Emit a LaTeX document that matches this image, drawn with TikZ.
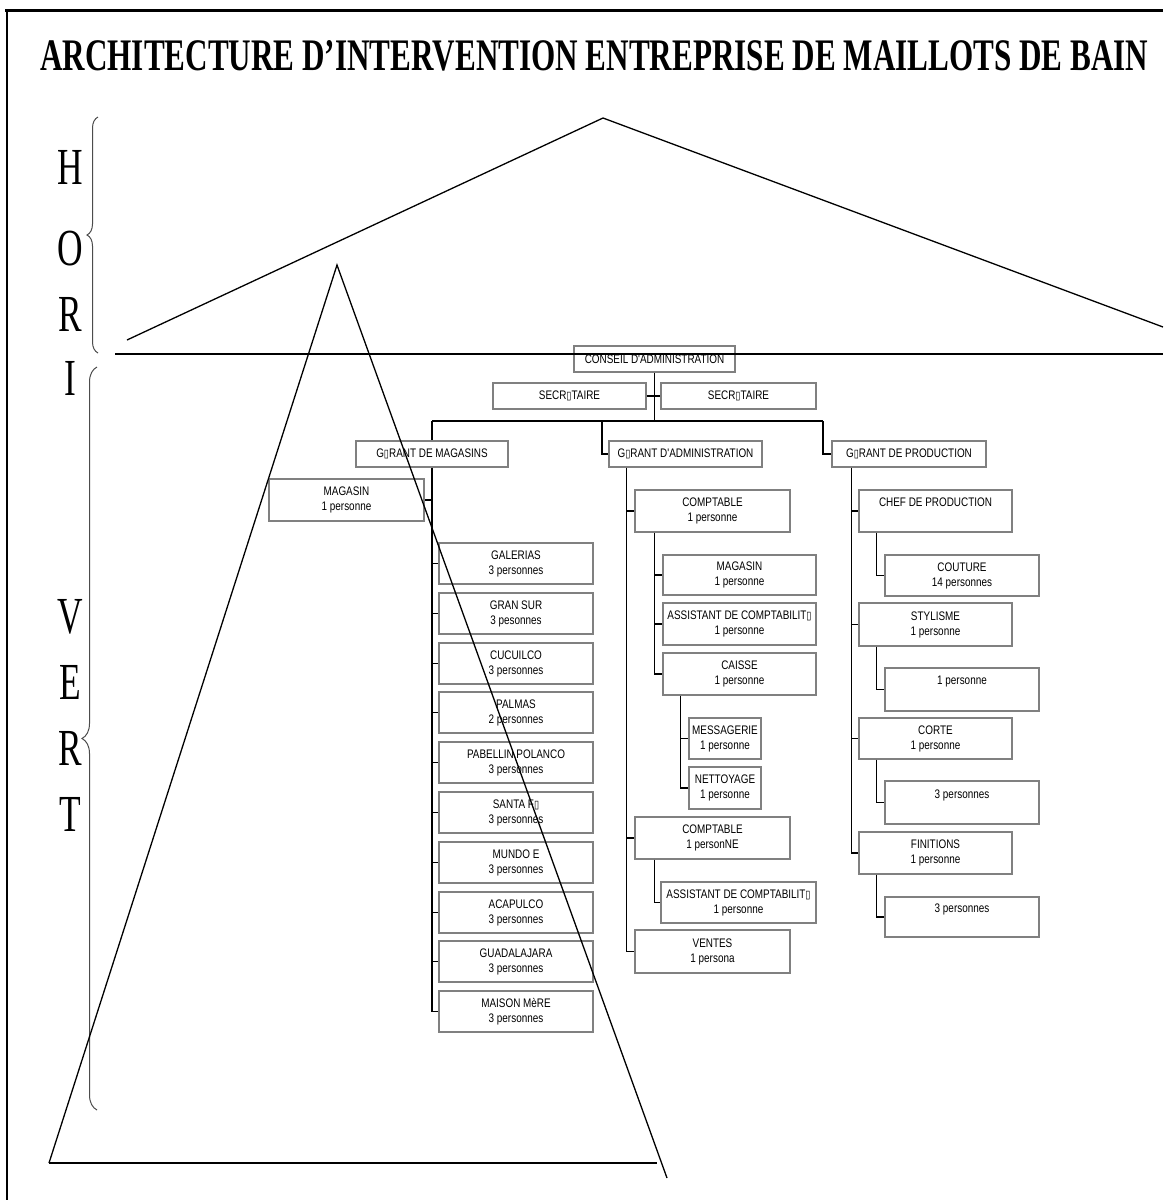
\documentclass[tikz,border=0pt]{standalone}
\usepackage{fontspec}
\usepackage{graphicx}
\usetikzlibrary{decorations.pathreplacing}

\newfontfamily\boxfont[FakeStretch=0.8]{Liberation Sans}
\newfontfamily\sideserif[FakeStretch=0.68]{Liberation Serif}
\newfontfamily\titleserif{Liberation Serif}
\newfontfamily\glyphfont{DejaVu Sans}
% placeholder glyph for the characters the chart could not print
\newcommand\nd{{\glyphfont\scalebox{0.75}[0.9]{▯}}}

% org-chart box: name, x1, y1, x2, y2, text
\newcommand\obox[6]{%
  \node[orgbox, minimum width={#4pt-#2pt}, minimum height={#5pt-#3pt}]
    (#1) at ({(#2+#4)/2},{(#3+#5)/2}) {#6};}

\tikzset{
  orgbox/.style={draw=black!50, line width=1.4pt, fill=white, inner sep=0pt,
    align=center, text=black, font=\boxfont\fontsize{12.4}{15}\selectfont},
  link/.style={line width=1.5pt, black},
  sketch/.style={line width=1.3pt, black},
  bracket/.style={decorate, decoration={brace, amplitude=#1, aspect=0.5},
    black!70, line width=1pt},
  letter/.style={anchor=base, inner sep=0pt,
    font=\sideserif\fontsize{52}{52}\selectfont}
}

\begin{document}
\begin{tikzpicture}[x=1pt,y=-1pt]
\useasboundingbox (0,0) rectangle (1163,1200);
\fill[white] (0,0) rectangle (1163,1200);

% page frame
\draw[line width=3pt] (5,10) -- (1163,10);
\draw[line width=1.5pt] (7,10) -- (7,1200);

% title
\node[anchor=base west, inner sep=0pt] (title) at (40,70)
  {\resizebox{1108pt}{30pt}{\titleserif\bfseries ARCHITECTURE D’INTERVENTION ENTREPRISE DE MAILLOTS DE BAIN}};

% side lettering
\node[letter] (lH) at (70,184) {H};
\node[letter] (lO) at (70,265) {O};
\node[letter] (lR) at (70,331) {R};
\node[letter] (lI) at (70,395) {I};
\node[letter] (lV) at (70,633) {V};
\node[letter] (lE) at (70,699) {E};
\node[letter] (lRb) at (70,765) {R};
\node[letter] (lT) at (70,831) {T};

% braces
\draw[bracket=11pt] (98,353) -- (98,117);
\draw[bracket=15pt] (97,1110) -- (97,367);

% top management
\obox{conseil}{574}{346}{735}{372}{CONSEIL D'ADMINISTRATION}
\obox{secA}{493}{383}{646}{409}{SECR\nd TAIRE}
\obox{secB}{661}{383}{816}{409}{SECR\nd TAIRE}
\obox{gmag}{356}{441}{508}{467}{G\nd RANT DE MAGASINS}
\obox{gadm}{609}{441}{762}{467}{G\nd RANT D'ADMINISTRATION}
\obox{gprod}{832}{441}{986}{467}{G\nd RANT DE PRODUCTION}

% shops
\obox{mag}{269}{479}{424}{521}{MAGASIN\\1 personne}
\obox{galerias}{439}{543}{593}{584}{GALERIAS\\3 personnes}
\obox{gransur}{439}{593}{593}{634}{GRAN SUR\\3 pesonnes}
\obox{cucuilco}{439}{643}{593}{684}{CUCUILCO\\3 personnes}
\obox{palmas}{439}{692}{593}{733}{PALMAS\\2 personnes}
\obox{pabellin}{439}{742}{593}{783}{PABELLIN POLANCO\\3 personnes}
\obox{santafe}{439}{792}{593}{833}{SANTA F\nd\\3 personnes}
\obox{mundo}{439}{842}{593}{883}{MUNDO E\\3 personnes}
\obox{acapulco}{439}{892}{593}{933}{ACAPULCO\\3 personnes}
\obox{guadalajara}{439}{941}{593}{982}{GUADALAJARA\\3 personnes}
\obox{mere}{439}{991}{593}{1032}{MAISON MèRE\\3 personnes}

% administration
\obox{comptA}{635}{490}{790}{532}{COMPTABLE\\1 personne}
\obox{magB}{663}{555}{816}{595}{MAGASIN\\1 personne}
\obox{assistA}{663}{603}{816}{645}{ASSISTANT DE COMPTABILIT\nd\\1 personne}
\obox{caisse}{663}{653}{816}{695}{CAISSE\\1 personne}
\obox{messag}{689}{718}{761}{759}{MESSAGERIE\\1 personne}
\obox{nettoy}{689}{767}{761}{809}{NETTOYAGE\\1 personne}
\obox{comptB}{635}{817}{790}{859}{COMPTABLE\\1 personNE}
\obox{assistB}{661}{882}{816}{923}{ASSISTANT DE COMPTABILIT\nd\\1 personne}
\obox{ventes}{635}{930}{790}{973}{VENTES\\1 persona}

% production
\obox{chef}{859}{490}{1012}{532}{CHEF DE PRODUCTION\\\phantom{p}}
\obox{couture}{885}{555}{1039}{596}{COUTURE\\14 personnes}
\obox{style}{859}{603}{1012}{646}{STYLISME\\1 personne}
\obox{styleA}{885}{668}{1039}{711}{1 personne\\\phantom{p}}
\obox{corte}{859}{718}{1012}{759}{CORTE\\1 personne}
\obox{corteA}{885}{781}{1039}{824}{3 personnes\\\phantom{p}}
\obox{finit}{859}{832}{1012}{874}{FINITIONS\\1 personne}
\obox{finitA}{885}{897}{1039}{937}{3 personnes\\\phantom{p}}

% upper connectors
\coordinate (busW) at (432,421);
\coordinate (busA) at (602,421);
\coordinate (busE) at (823,421);
\draw[link] (busW) -- (busE);
\draw[link] (conseil.south) -- (conseil.south |- busW);
\draw[link] (secA.east) -- (secB.west);
\draw[link] (busW) -- (gmag.north);
\draw[link] (busA) |- (gadm.west);
\draw[link] (busE) |- (gprod.west);

% shop branch
\draw[link] (gmag.south) -- (gmag.south |- mere.west);
\foreach \n in {galerias,gransur,cucuilco,palmas,pabellin,santafe,mundo,acapulco,guadalajara,mere}
  \draw[link] (gmag.south |- \n.west) -- (\n.west);
\draw[link] (gmag.south |- mag.east) -- (mag.east);

% administration branch
\coordinate (aS) at ([xshift=18pt]gadm.south west);
\draw[link] (aS) -- (aS |- ventes.west);
\foreach \n in {comptA,comptB,ventes}
  \draw[link] (aS |- \n.west) -- (\n.west);
\coordinate (cS) at ([xshift=20pt]comptA.south west);
\draw[link] (cS) |- (caisse.west);
\foreach \n in {magB,assistA}
  \draw[link] (cS |- \n.west) -- (\n.west);
\coordinate (kS) at ([xshift=18pt]caisse.south west);
\draw[link] (kS) |- (nettoy.west);
\draw[link] (kS |- messag.west) -- (messag.west);
\draw[link] ([xshift=20pt]comptB.south west) |- (assistB.west);

% production branch
\coordinate (pS) at ([xshift=20pt]gprod.south west);
\draw[link] (pS) |- (finit.west);
\foreach \n in {chef,style,corte}
  \draw[link] (pS |- \n.west) -- (\n.west);
\foreach \a/\b in {chef/couture,style/styleA,corte/corteA,finit/finitA}
  \draw[link] ([xshift=18pt]\a.south west) |- (\b.west);

% horizontal and vertical pyramids
\coordinate (hL) at (127,340);
\coordinate (hTop) at (603,118);
\coordinate (hR) at (1163,327);
\draw[sketch] (hL) -- (hTop) -- (hR);
\draw[line width=1.5pt] (115,354) -- (1163,354);
\coordinate (vTop) at (337,265);
\coordinate (vL) at (49,1163);
\coordinate (vR) at (667,1178);
\draw[sketch] (vL) -- (vTop) -- (vR);
\draw[line width=1.5pt] (vL) -- (657,1163);
\end{tikzpicture}
\end{document}
